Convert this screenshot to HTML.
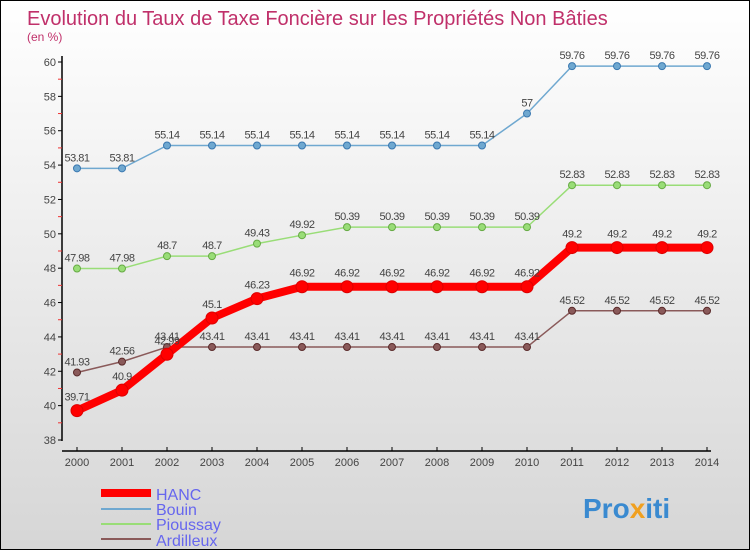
<!DOCTYPE html>
<html><head><meta charset="utf-8"><style>
body{margin:0}
#c{width:750px;height:550px;position:relative;overflow:hidden;background:linear-gradient(#ffffff,#d6d6d6);border:1px solid #000;box-sizing:border-box;font-family:"Liberation Sans",sans-serif}
</style></head><body>
<div id="c">
<svg id="s" width="750" height="550" xmlns="http://www.w3.org/2000/svg">
<text x="26" y="24" font-size="20" fill="#c0306a">Evolution du Taux de Taxe Foncière sur les Propriétés Non Bâties</text>
<text x="26" y="40" font-size="12" fill="#c0306a">(en %)</text>
<g id="axes"></g><g id="series"></g>
<g>
<line x1="100" y1="492" x2="150" y2="492" stroke="#f00" stroke-width="8"/>
<text x="155" y="499" font-size="16" fill="#6666ee">HANC</text>
<line x1="100" y1="508" x2="150" y2="508" stroke="#6fa8d0" stroke-width="2"/>
<text x="155" y="514" font-size="16" fill="#6666ee">Bouin</text>
<line x1="100" y1="523" x2="150" y2="523" stroke="#99dd77" stroke-width="2"/>
<text x="155" y="529" font-size="16" fill="#6666ee">Pioussay</text>
<line x1="100" y1="538" x2="150" y2="538" stroke="#8a5a5a" stroke-width="2"/>
<text x="155" y="545" font-size="16" fill="#6666ee">Ardilleux</text>
</g>
<text x="582" y="517" font-size="28" font-weight="bold" fill="#3a8ad0">Pro<tspan fill="#f0a020">x</tspan><tspan fill="#3a8ad0">iti</tspan></text>
</svg>
</div>
<script>
const years=[2000,2001,2002,2003,2004,2005,2006,2007,2008,2009,2010,2011,2012,2013,2014];
const hanc=[39.71,40.9,42.99,45.1,46.23,46.92,46.92,46.92,46.92,46.92,46.92,49.2,49.2,49.2,49.2];
const bouin=[53.81,53.81,55.14,55.14,55.14,55.14,55.14,55.14,55.14,55.14,57,59.76,59.76,59.76,59.76];
const pioussay=[47.98,47.98,48.7,48.7,49.43,49.92,50.39,50.39,50.39,50.39,50.39,52.83,52.83,52.83,52.83];
const ardilleux=[41.93,42.56,43.41,43.41,43.41,43.41,43.41,43.41,43.41,43.41,43.41,45.52,45.52,45.52,45.52];
const yTicks=[38,40,42,44,46,48,50,52,54,56,58,60];
const NS="http://www.w3.org/2000/svg";
const x=i=>76+i*45;
const y=v=>439-(v-38)*378/22;
function mk(t,a,p){const e=document.createElementNS(NS,t);for(const k in a)e.setAttribute(k,a[k]);p.appendChild(e);return e;}
const ax=document.getElementById('axes');
let e=mk('line',{x1:61,y1:55,x2:61,y2:440,stroke:'#000','stroke-width':1.5},ax);


e=mk('line',{x1:61,y1:450,x2:710,y2:450,stroke:'#000','stroke-width':1.5},ax);


yTicks.forEach(v=>{
 mk('line',{x1:57,y1:y(v),x2:61,y2:y(v),stroke:'#000'},ax);
 if(v<60){mk('line',{x1:57,y1:y(v+1),x2:61,y2:y(v+1),stroke:'#e33'},ax);}
 const t=mk('text',{x:55,y:y(v)+4,'font-size':11,'text-anchor':'end',fill:'#444'},ax);t.textContent=v;
 
 
});
years.forEach((yr,i)=>{
 mk('line',{x1:x(i),y1:446,x2:x(i),y2:450,stroke:'#000'},ax);
 const t=mk('text',{x:x(i),y:465,'font-size':11,'text-anchor':'middle',fill:'#444'},ax);t.textContent=yr;
 
 
});
const sg=document.getElementById('series');
function series(name,data,col,dark,w,r){
 const g=mk('g',{},sg);
 
 
 mk('polyline',{points:data.map((v,i)=>x(i)+','+y(v)).join(' '),fill:'none',stroke:col,'stroke-width':w,'stroke-linejoin':'round'},g);
 data.forEach((v,i)=>{
  const c=mk('circle',{cx:x(i),cy:y(v),r:r,fill:col,stroke:dark,'stroke-width':1},g);
  
  
  const t=mk('text',{x:x(i),y:y(v)-7-(r>4?3:0),'font-size':11,'text-anchor':'middle',fill:'#444','letter-spacing':'-0.5'},g);
  t.textContent=String(v).replace('.','');
  t.textContent=String(v);
  
  
 });
}
series('bouin',bouin,'#6fa8d0','#3a78b0',1.5,3.5);
series('pioussay',pioussay,'#99dd77','#66aa44',1.5,3.5);
series('ardilleux',ardilleux,'#8a5a5a','#5a2a2a',1.5,3.5);
series('hanc',hanc,'#f00','#d00',8,6);
</script>
</body></html>
